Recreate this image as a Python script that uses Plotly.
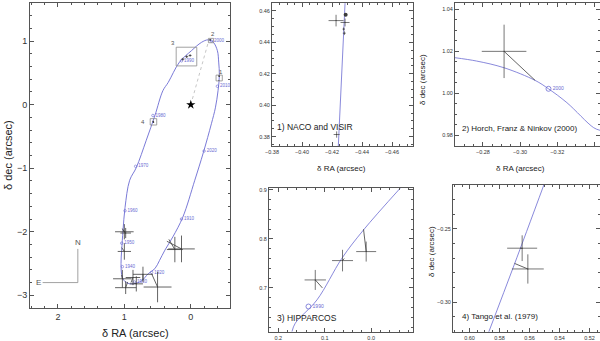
import plotly.graph_objects as go

# orbit (delta RA, delta dec in arcsec)
orbit_ra = [0.42, 0.34, 0.17, -0.01, -0.16, -0.26, -0.34, -0.40, -0.42, -0.43, -0.41, -0.37, -0.31,
            -0.19, -0.06, 0.12, 0.27, 0.39, 0.47, 0.54, 0.64, 0.74, 0.87, 0.97, 1.03, 1.05, 1.04,
            1.02, 0.99, 0.92, 0.82, 0.67, 0.54, 0.42]
orbit_dec = [0.22, 0.35, 0.67, 0.85, 0.98, 1.02, 0.98, 0.85, 0.67, 0.46, 0.22, -0.05, -0.30,
             -0.75, -1.19, -1.77, -2.08, -2.29, -2.45, -2.58, -2.66, -2.77, -2.82, -2.80, -2.72, -2.50, -2.29,
             -1.98, -1.62, -1.19, -0.99, -0.56, -0.17, 0.22]

# epoch marks along the orbit
epoch_ra = [-0.31, -0.40, -0.20, 0.14, 0.59, 0.85, 1.03, 1.04, 0.99, 0.83, 0.57, 0.14]
epoch_dec = [1.00, 0.29, -0.73, -1.80, -2.64, -2.79, -2.55, -2.18, -1.67, -0.97, -0.17, 0.69]
epoch_lbl = ["2000", "2010", "2020", "1910", "1920", "1930", "1940", "1950", "1960", "1970", "1980", "1990"]

# older visual / speckle measures (main panel)
vis_ra = [1.00, 0.98, 1.00, 1.03, 0.98, 0.87, 0.82, 0.72, 0.50, 0.24, 0.14]
vis_dec = [-2.00, -2.02, -2.31, -2.74, -2.88, -2.72, -2.82, -2.67, -2.87, -2.28, -2.27]
vis_era = [0.14, 0.08, 0.10, 0.14, 0.16, 0.11, 0.10, 0.15, 0.21, 0.12, 0.20]
vis_edec = [0.12, 0.08, 0.13, 0.14, 0.10, 0.12, 0.12, 0.12, 0.24, 0.20, 0.21]
vis_fit_ra = [1.03, 1.03, 1.04, 1.04, 0.95, 0.90, 0.85, 0.72, 0.59, 0.33, 0.36]
vis_fit_dec = [-1.95, -1.97, -2.25, -2.68, -2.79, -2.80, -2.81, -2.77, -2.66, -2.12, -2.15]

# 1) NACO and VISIR
naco_ra = [-0.4227, -0.4291, -0.4287, -0.4278, -0.4282, -0.4231]
naco_dec = [0.4538, 0.4575, 0.4526, 0.4484, 0.4458, 0.3813]
naco_era = [0.0050, 0.0008, 0.0030, 0.0008, 0.0010, 0.0020]
naco_edec = [0.0037, 0.0008, 0.0025, 0.0010, 0.0012, 0.0020]
naco_orb_ra = [-0.4242, -0.4287]
naco_orb_dec = [0.3738, 0.4649]

# 2) Horch, Franz & Ninkov (2000)
horch_ra = [-0.2914]
horch_dec = [1.0200]
horch_era = [0.0120]
horch_edec = [0.0127]
horch_fit_ra = [-0.3081]
horch_fit_dec = [1.0062]
horch_orb_ra = [-0.2649, -0.2766, -0.2914, -0.3081, -0.3153, -0.3252, -0.3396, -0.3432]
horch_orb_dec = [1.0170, 1.0154, 1.0122, 1.0062, 1.0022, 0.9956, 0.9837, 0.9824]

# 3) HIPPARCOS
hip_ra = [0.1204, 0.0617, 0.0108]
hip_dec = [0.7163, 0.7558, 0.7742]
hip_era = [0.023, 0.0226, 0.0215]
hip_edec = [0.0204, 0.022, 0.0204]
hip_fit_ra = [0.105, 0.058, 0.0165]
hip_fit_dec = [0.700, 0.760, 0.8198]
hip_orb_ra = [0.1705, 0.1634, 0.1168, 0.063, 0.0165, -0.0624]
hip_orb_dec = [0.611, 0.628, 0.6755, 0.7606, 0.8184, 0.9035]

# 4) Tango et al. (1979)
tango_ra = [0.5649, 0.5611]
tango_dec = [-0.2632, -0.2774]
tango_era = [0.0100, 0.0106]
tango_edec = [0.0088, 0.0100]
tango_fit_ra = [0.5662, 0.5700]
tango_fit_dec = [-0.2632, -0.2736]
tango_orb_ra = [0.5871, 0.5700, 0.5504]
tango_orb_dec = [-0.3203, -0.2740, -0.2199]

BLUE = "#6b6bd2"
DARK = "#3c3c3c"
GREY = "#8a8a8a"
FONT = "Liberation Sans"

fig = go.Figure()


def orbit(xs, ys, ax, w=0.9):
    fig.add_trace(go.Scatter(x=xs, y=ys, mode="lines", line=dict(color=BLUE, width=w, shape="spline"),
                             xaxis="x" + ax, yaxis="y" + ax, hoverinfo="skip"))


def crosses(xs, ys, ex, ey, ax, w=0.8):
    fig.add_trace(go.Scatter(x=xs, y=ys, mode="markers", marker=dict(size=1, color=DARK),
                             error_x=dict(type="data", array=ex, width=0, thickness=w, color=DARK),
                             error_y=dict(type="data", array=ey, width=0, thickness=w, color=DARK),
                             xaxis="x" + ax, yaxis="y" + ax))


def links(xs, ys, fx, fy, ax):
    lx, ly = [], []
    for a, b, c, d in zip(xs, ys, fx, fy):
        lx += [a, c, None]
        ly += [b, d, None]
    fig.add_trace(go.Scatter(x=lx, y=ly, mode="lines", line=dict(color=DARK, width=0.8),
                             xaxis="x" + ax, yaxis="y" + ax, hoverinfo="skip"))


# ---- main panel
orbit(orbit_ra, orbit_dec, "")
fig.add_trace(go.Scatter(x=[0, -0.26], y=[0, 0.97], mode="lines",
                         line=dict(color="#b8b8b8", width=0.8, dash="dot"), hoverinfo="skip"))
fig.add_trace(go.Scatter(x=[0], y=[0], mode="markers",
                         marker=dict(symbol="star", size=7, color="black")))
fig.add_trace(go.Scatter(x=epoch_ra, y=epoch_dec, mode="markers+text", text=epoch_lbl,
                         textposition="middle right", textfont=dict(size=4.5, color=BLUE, family=FONT),
                         marker=dict(symbol="circle-open", size=2.5, color=BLUE, line=dict(width=0.6))))
links(vis_ra, vis_dec, vis_fit_ra, vis_fit_dec, "")
crosses(vis_ra, vis_dec, vis_era, vis_edec, "")
crosses(naco_ra, naco_dec, naco_era, naco_edec, "")
crosses(horch_ra, horch_dec, horch_era, horch_edec, "")
crosses(hip_ra, hip_dec, hip_era, hip_edec, "")
crosses(tango_ra, tango_dec, tango_era, tango_edec, "")

# ---- panel 1
orbit(naco_orb_ra, naco_orb_dec, "2", 0.8)
crosses(naco_ra, naco_dec, naco_era, naco_edec, "2", 0.7)
fig.add_trace(go.Scatter(x=[naco_ra[1]], y=[naco_dec[1]], mode="markers",
                         marker=dict(size=4, color=DARK), xaxis="x2", yaxis="y2"))

# ---- panel 2
orbit(horch_orb_ra, horch_orb_dec, "3", 0.8)
links(horch_ra, horch_dec, horch_fit_ra, horch_fit_dec, "3")
crosses(horch_ra, horch_dec, horch_era, horch_edec, "3", 0.7)
fig.add_trace(go.Scatter(x=[-0.3153], y=[1.0022], mode="markers+text", text=["2000"],
                         textposition="middle right", textfont=dict(size=5, color=BLUE, family=FONT),
                         marker=dict(symbol="circle-open", size=5, color=BLUE, line=dict(width=0.8)),
                         xaxis="x3", yaxis="y3"))

# ---- panel 3
orbit(hip_orb_ra, hip_orb_dec, "4", 0.8)
links(hip_ra, hip_dec, hip_fit_ra, hip_fit_dec, "4")
crosses(hip_ra, hip_dec, hip_era, hip_edec, "4", 0.7)
fig.add_trace(go.Scatter(x=[0.135], y=[0.662], mode="markers+text", text=["1990"],
                         textposition="middle right", textfont=dict(size=5, color=BLUE, family=FONT),
                         marker=dict(symbol="circle-open", size=5, color=BLUE, line=dict(width=0.8)),
                         xaxis="x4", yaxis="y4"))

# ---- panel 4
orbit(tango_orb_ra, tango_orb_dec, "5", 0.8)
links(tango_ra, tango_dec, tango_fit_ra, tango_fit_dec, "5")
crosses(tango_ra, tango_dec, tango_era, tango_edec, "5", 0.7)


def axis(dom, rng, dtick, minor, fmt, size, anchor):
    return dict(domain=dom, range=rng, autorange=False, automargin=False, dtick=dtick, tick0=0,
                tickformat=fmt, ticks="inside", ticklen=4, tickwidth=0.8, tickcolor="#555",
                minor=dict(dtick=minor, ticks="inside", ticklen=2, tickcolor="#555", tickwidth=0.7),
                showline=True, linecolor="#555", linewidth=1, mirror="allticks",
                showgrid=False, zeroline=False, anchor=anchor,
                tickfont=dict(size=size, color="#333", family=FONT))


# boxes around the zoomed regions
boxes = [([-0.38, -0.474], [0.374, 0.465], "1", -0.46, 0.52),
         ([-0.265, -0.343], [0.975, 1.043], "2", -0.33, 1.12),
         ([0.22, -0.09], [0.61, 0.904], "3", 0.27, 0.97),
         ([0.611, 0.513], [-0.3205, -0.22], "4", 0.72, -0.27)]
shapes = []
annotations = []
for bx, by, lab, lx, ly in boxes:
    shapes.append(dict(type="rect", xref="x", yref="y", x0=bx[0], x1=bx[1], y0=by[0], y1=by[1],
                       line=dict(color=GREY, width=0.8)))
    annotations.append(dict(x=lx, y=ly, xref="x", yref="y", text=lab, showarrow=False,
                            font=dict(size=6, color="#555", family=FONT)))

# N / E compass
shapes.append(dict(type="line", xref="x", yref="y", x0=1.70, x1=1.70, y0=-2.27, y1=-2.80,
                   line=dict(color=GREY, width=0.8)))
shapes.append(dict(type="line", xref="x", yref="y", x0=2.23, x1=1.70, y0=-2.80, y1=-2.80,
                   line=dict(color=GREY, width=0.8)))
annotations.append(dict(x=1.70, y=-2.17, xref="x", yref="y", text="N", showarrow=False,
                        font=dict(size=8, color="#555", family=FONT)))
annotations.append(dict(x=2.29, y=-2.80, xref="x", yref="y", text="E", showarrow=False,
                        font=dict(size=8, color="#555", family=FONT)))


def label(x, y, text, size, angle=0, anchor="center"):
    annotations.append(dict(x=x / 600, y=1 - y / 341, xref="paper", yref="paper", text=text,
                            showarrow=False, textangle=angle, xanchor=anchor, yanchor="middle",
                            font=dict(size=size, color="#222", family=FONT)))


label(135, 333, "δ RA (arcsec)", 11)
label(8, 155, "δ dec (arcsec)", 11, -90)
label(342, 168, "δ RA (arcsec)", 8)
label(520, 168, "δ RA (arcsec)", 8)
label(422, 80, "δ dec (arcsec)", 8, -90)
label(431, 252, "δ dec (arcsec)", 8, -90)
label(275, 127, "1) NACO and VISIR", 8.5, anchor="left")
label(460, 128, "2) Horch, Franz &amp; Ninkov (2000)", 8, anchor="left")
label(275, 318, "3) HIPPARCOS", 8.5, anchor="left")
label(460, 316, "4) Tango et al. (1979)", 8, anchor="left")

fig.update_layout(
    width=600, height=341, margin=dict(l=0, r=0, t=0, b=0, autoexpand=False),
    paper_bgcolor="white", plot_bgcolor="white", showlegend=False,
    font=dict(family=FONT),
    xaxis=axis([30 / 600, 230 / 600], [2.42, -0.59], 1, 0.2, "d", 9, "y"),
    yaxis=axis([1 - 308 / 341, 1 - 3 / 341], [-3.2, 1.6], 1, 0.2, "d", 9, "x"),
    xaxis2=axis([272 / 600, 413 / 600], [-0.38, -0.474], 0.02, 0.005, ".2f", 5.5, "y2"),
    yaxis2=axis([1 - 146 / 341, 1 - 3 / 341], [0.374, 0.465], 0.02, 0.005, ".2f", 5.5, "x2"),
    xaxis3=axis([455 / 600, 1.0], [-0.265, -0.343], 0.02, 0.005, ".2f", 5.5, "y3"),
    yaxis3=axis([1 - 146 / 341, 1 - 3 / 341], [0.975, 1.043], 0.02, 0.005, ".2f", 5.5, "x3"),
    xaxis4=axis([269 / 600, 413 / 600], [0.22, -0.09], 0.1, 0.02, ".1f", 5.5, "y4"),
    yaxis4=axis([1 - 332 / 341, 1 - 188 / 341], [0.61, 0.904], 0.1, 0.02, ".1f", 5.5, "x4"),
    xaxis5=axis([453 / 600, 1.0], [0.611, 0.513], 0.02, 0.005, ".2f", 5.5, "y5"),
    yaxis5=axis([1 - 332 / 341, 1 - 185 / 341], [-0.3205, -0.22], 0.05, 0.01, ".2f", 5.5, "x5"),
    shapes=shapes, annotations=annotations,
)

# the page's default body margin would shift the figure by 8px
fig.write_html("out.html", config={"displayModeBar": False},
               post_script="document.body.style.margin='0px';")
